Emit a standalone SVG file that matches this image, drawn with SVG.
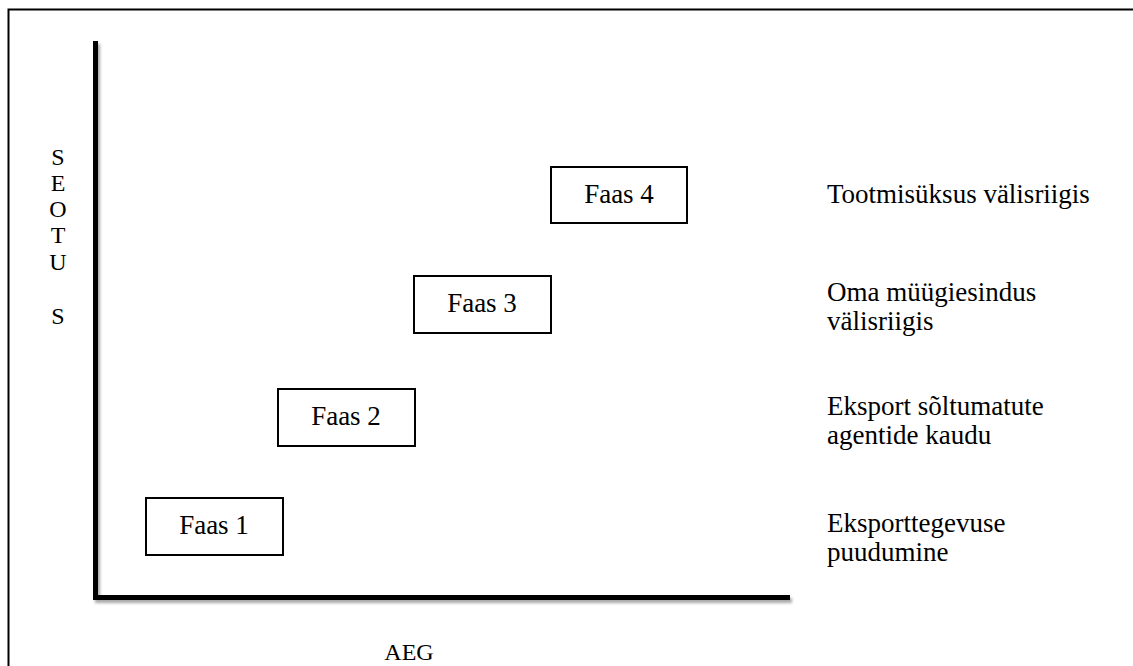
<svg xmlns="http://www.w3.org/2000/svg" width="1133" height="666" viewBox="0 0 1133 666">
<defs>
<filter id="sh" x="-10%" y="-10%" width="120%" height="120%">
<feGaussianBlur in="SourceAlpha" stdDeviation="1.5"/>
<feOffset dx="2" dy="3" result="b"/>
<feComponentTransfer><feFuncA type="linear" slope="0.35"/></feComponentTransfer>
<feMerge><feMergeNode/><feMergeNode in="SourceGraphic"/></feMerge>
</filter>
</defs>
<style>
text{font-family:"Liberation Serif","Times New Roman",serif;font-size:27px;fill:#000}
.ax{font-size:24px}
.box{fill:#fff;stroke:#000;stroke-width:2}
.mid{text-anchor:middle}
</style>
<rect width="1133" height="666" fill="#fff"/>
<path d="M8.5,666 V9.5 H1133" fill="none" stroke="#000" stroke-width="2"/>
<g id="axes" filter="url(#sh)">
<path d="M95.5,41 V597.5 H790" fill="none" stroke="#000" stroke-width="5"/>
</g>
<g id="yLabel">
<text x="58" y="165" class="mid ax">S</text>
<text x="58" y="191" class="mid ax">E</text>
<text x="58" y="217" class="mid ax">O</text>
<text x="58" y="243" class="mid ax">T</text>
<text x="58" y="270" class="mid ax">U</text>
<text x="58" y="324" class="mid ax">S</text>
</g>
<text id="xLabel" x="409" y="660" class="mid ax">AEG</text>
<g id="faas1"><rect class="box" x="146" y="498" width="137" height="57"/><text x="214" y="534" class="mid">Faas 1</text></g>
<g id="faas2"><rect class="box" x="278" y="389" width="137" height="57"/><text x="346" y="425" class="mid">Faas 2</text></g>
<g id="faas3"><rect class="box" x="414" y="276" width="137" height="57"/><text x="482" y="312" class="mid">Faas 3</text></g>
<g id="faas4"><rect class="box" x="551" y="167" width="136" height="56"/><text x="619" y="203" class="mid">Faas 4</text></g>
<g id="labels">
<text x="827" y="203">Tootmisüksus välisriigis</text>
<text x="827" y="301">Oma müügiesindus</text>
<text x="827" y="330">välisriigis</text>
<text x="827" y="415">Eksport sõltumatute</text>
<text x="827" y="444">agentide kaudu</text>
<text x="827" y="532">Eksporttegevuse</text>
<text x="827" y="561">puudumine</text>
</g>
</svg>
